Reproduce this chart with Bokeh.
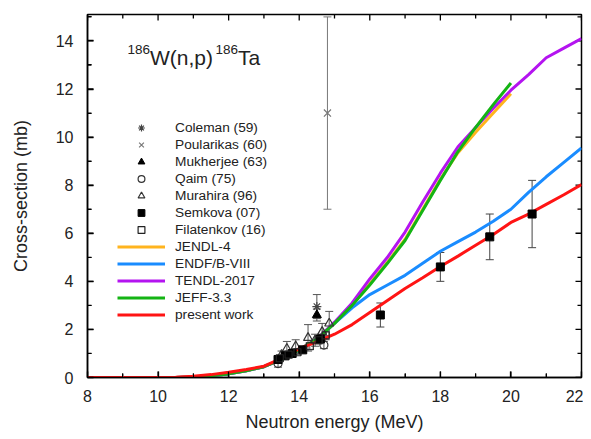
import numpy as np
from bokeh.plotting import figure
from bokeh.models import (Range1d, SingleIntervalTicker, Legend, LegendItem, LinearAxis,
                          ColumnDataSource, Whisker, TeeHead, Label, CustomJSTickFormatter)
from bokeh.embed import file_html
from bokeh.resources import INLINE

# ---------------- data ----------------
coleman_E = [14.5]; coleman_v = [2.95]; coleman_err = [0.5]
poularikas_E = [14.8]; poularikas_v = [11.0]; poularikas_err = [4.0]
mukherjee_E = [14.5]; mukherjee_v = [2.6]; mukherjee_err = [0.25]
qaim_E = [13.4, 14.7]; qaim_v = [0.58, 1.35]; qaim_err = [0.15, 0.15]
murahira_E = [13.5, 13.65, 13.9, 14.25, 14.45, 14.65, 14.85]
murahira_v = [0.95, 1.2, 1.3, 1.65, 1.55, 1.9, 2.25]
murahira_err = [0.15, 0.3, 0.27, 0.55, 0.25, 0.35, 0.5]
semkova_E = [13.4, 13.6, 13.8, 14.1, 14.6, 16.3, 18.0, 19.4, 20.6]
semkova_v = [0.75, 0.9, 1.0, 1.15, 1.6, 2.6, 4.6, 5.85, 6.8]
semkova_err = [0.08, 0.1, 0.1, 0.12, 0.15, 0.5, 0.6, 0.95, 1.4]
filatenkov_E = [13.45, 13.7, 13.95, 14.3, 14.55, 14.75]
filatenkov_v = [0.8, 0.95, 1.05, 1.3, 1.55, 1.75]
filatenkov_err = [0.08, 0.1, 0.1, 0.13, 0.15, 0.18]

eval_E_low = [10.0, 10.5, 11.0, 11.5, 12.0, 12.5, 13.0, 13.5, 14.0, 14.5]
eval_v_low = [0.0, 0.0, 0.02, 0.07, 0.15, 0.28, 0.45, 0.75, 1.15, 1.6]

jendl_E = [15.0, 15.5, 16.0, 16.5, 17.0, 17.5, 18.0, 18.5, 19.0, 19.5, 20.0]
jendl_v = [2.25, 3.0, 3.9, 4.8, 5.75, 7.0, 8.25, 9.35, 10.2, 11.0, 11.8]
endf_E = [15.0, 15.5, 16.0, 16.5, 17.0, 17.5, 18.0, 18.5, 19.0, 19.5, 20.0, 20.5, 21.0, 21.5, 22.0]
endf_v = [2.25, 2.9, 3.45, 3.85, 4.25, 4.75, 5.25, 5.65, 6.05, 6.5, 7.0, 7.7, 8.35, 8.95, 9.55]
tendl_E = [15.0, 15.5, 16.0, 16.5, 17.0, 17.5, 18.0, 18.5, 19.0, 19.5, 20.0, 20.5, 21.0, 21.5, 22.0]
tendl_v = [2.3, 3.1, 4.1, 5.0, 6.05, 7.3, 8.5, 9.6, 10.4, 11.2, 11.95, 12.6, 13.3, 13.7, 14.1]
jeff_E = [15.0, 15.5, 16.0, 16.5, 17.0, 17.5, 18.0, 18.5, 19.0, 19.5, 20.0]
jeff_v = [2.25, 3.0, 3.85, 4.75, 5.7, 6.95, 8.2, 9.4, 10.4, 11.35, 12.25]
present_E = [8.0, 9.0, 10.0, 10.5, 11.0, 11.5, 12.0, 12.5, 13.0, 13.5, 14.0, 14.5, 15.0, 15.5,
             16.0, 16.5, 17.0, 17.5, 18.0, 18.5, 19.0, 19.5, 20.0, 20.5, 21.0, 21.5, 22.0]
present_v = [0.0, 0.0, 0.0, 0.01, 0.05, 0.12, 0.22, 0.33, 0.47, 0.8, 1.2, 1.48, 1.8, 2.2,
             2.7, 3.2, 3.7, 4.15, 4.62, 5.05, 5.5, 5.95, 6.45, 6.8, 7.2, 7.6, 8.03]

x_major = [8, 10, 12, 14, 16, 18, 20, 22]
x_minor = [9, 11, 13, 15, 17, 19, 21]
y_major = [0, 2, 4, 6, 8, 10, 12, 14]
y_minor = [1, 3, 5, 7, 9, 11, 13, 15]

X0, X1, Y0, Y1 = 8, 22, 0, 15.1
FONT = "Liberation Sans"

W, H = 583, 439
BL, BR, BT, BB = 87, 2, 14, 62
FW, FH = W - BL - BR, H - BT - BB          # frame size in px
DX, DY = (X1 - X0) / FW, (Y1 - Y0) / FH    # data units per px

p = figure(width=W, height=H, output_backend="svg", toolbar_location=None,
           x_range=Range1d(X0, X1), y_range=Range1d(Y0, Y1),
           min_border_left=BL, min_border_right=BR, min_border_top=BT, min_border_bottom=BB,
           x_axis_label="Neutron energy (MeV)", y_axis_label="Cross-section (mb)")
p.xgrid.grid_line_color = None
p.ygrid.grid_line_color = None
p.outline_line_color = "black"
p.outline_line_width = 1.5

bottom_ax = p.below[0]
left_ax = p.left[0]

for ax in (bottom_ax, left_ax):
    ax.ticker = SingleIntervalTicker(interval=2, num_minor_ticks=2)
    ax.major_tick_in = 6
    ax.major_tick_out = 0
    ax.minor_tick_in = 4
    ax.minor_tick_out = 0
    ax.major_tick_line_color = "black"
    ax.minor_tick_line_color = "black"
    ax.major_tick_line_width = 1.3
    ax.axis_line_width = 1.5
    ax.axis_line_color = "black"
    ax.major_label_text_font = FONT
    ax.major_label_text_font_size = "16px"
    ax.major_label_text_color = "#222222"
    ax.axis_label_text_font = FONT
    ax.axis_label_text_font_size = "18px"
    ax.axis_label_text_font_style = "normal"
    ax.axis_label_text_color = "#222222"
bottom_ax.major_label_standoff = 12
bottom_ax.axis_label_standoff = 7
left_ax.major_label_standoff = 14
left_ax.axis_label_standoff = 22

# inward ticks on all four sides, drawn as headless whiskers from the tick lists
def tick_whiskers(vals, edge, length, dim):
    n = len(vals)
    lo = [edge] * n
    hi = [edge + length] * n
    src = ColumnDataSource(dict(b=vals, lo=[min(a, c) for a, c in zip(lo, hi)],
                                hi=[max(a, c) for a, c in zip(lo, hi)]))
    p.add_layout(Whisker(source=src, base="b", lower="lo", upper="hi", dimension=dim,
                         line_color="black", line_width=1.3,
                         upper_head=None, lower_head=None))

tick_whiskers(x_major, Y0, 6 * DY, "height")
tick_whiskers(x_major, Y1, -6 * DY, "height")
tick_whiskers(x_minor, Y0, 4 * DY, "height")
tick_whiskers(x_minor, Y1, -4 * DY, "height")
tick_whiskers(y_major, X0, 6 * DX, "width")
tick_whiskers(y_major, X1, -6 * DX, "width")
tick_whiskers(y_minor, X0, 4 * DX, "width")
tick_whiskers(y_minor, X1, -4 * DX, "width")

# ---------------- evaluations ----------------
def full(E, v):
    return list(eval_E_low) + list(E), list(eval_v_low) + list(v)

lw = 3
xe, ye = full(jendl_E, jendl_v)
r_jendl = p.line(xe, ye, line_color="#ffb41e", line_width=lw)
xe, ye = full(endf_E, endf_v)
r_endf = p.line(xe, ye, line_color="#1a8cff", line_width=lw)
xe, ye = full(tendl_E, tendl_v)
r_tendl = p.line(xe, ye, line_color="#b414f0", line_width=lw)
xe, ye = full(jeff_E, jeff_v)
r_jeff = p.line(xe, ye, line_color="#14b414", line_width=lw)
r_present = p.line(present_E, present_v, line_color="#ff1414", line_width=lw)

# ---------------- experimental data ----------------
def errbars(E, v, err, color="#555555"):
    src = ColumnDataSource(dict(x=E, lo=[a - b for a, b in zip(v, err)],
                                hi=[a + b for a, b in zip(v, err)]))
    w = Whisker(source=src, base="x", lower="lo", upper="hi", dimension="height",
                line_color=color, line_width=1,
                upper_head=TeeHead(size=8, line_color=color, line_width=1),
                lower_head=TeeHead(size=8, line_color=color, line_width=1))
    p.add_layout(w)

errbars(poularikas_E, poularikas_v, poularikas_err, "#777777")
errbars(coleman_E, coleman_v, coleman_err)
errbars(mukherjee_E, mukherjee_v, mukherjee_err)
errbars(qaim_E, qaim_v, qaim_err)
errbars(murahira_E, murahira_v, murahira_err)
errbars(semkova_E, semkova_v, semkova_err, "#444444")
errbars(filatenkov_E, filatenkov_v, filatenkov_err)

r_col = p.scatter(coleman_E, coleman_v, marker="asterisk", size=9, line_color="#444444", line_width=1.2)
r_pou = p.scatter(poularikas_E, poularikas_v, marker="x", size=10, line_color="#777777", line_width=1.2)
r_muk = p.scatter(mukherjee_E, mukherjee_v, marker="triangle", size=9, fill_color="black", line_color="black")
r_qai = p.scatter(qaim_E, qaim_v, marker="circle", size=8, fill_color=None, line_color="#333333", line_width=1.2)
r_mur = p.scatter(murahira_E, murahira_v, marker="triangle", size=9, fill_color=None, line_color="#333333", line_width=1.2)
r_sem = p.scatter(semkova_E, semkova_v, marker="square", size=8, fill_color="black", line_color="black")
r_fil = p.scatter(filatenkov_E, filatenkov_v, marker="square", size=7, fill_color=None, line_color="#222222", line_width=1.2)

legend = Legend(items=[
    LegendItem(label="Coleman (59)", renderers=[r_col]),
    LegendItem(label="Poularikas (60)", renderers=[r_pou]),
    LegendItem(label="Mukherjee (63)", renderers=[r_muk]),
    LegendItem(label="Qaim (75)", renderers=[r_qai]),
    LegendItem(label="Murahira (96)", renderers=[r_mur]),
    LegendItem(label="Semkova (07)", renderers=[r_sem]),
    LegendItem(label="Filatenkov (16)", renderers=[r_fil]),
    LegendItem(label="JENDL-4", renderers=[r_jendl]),
    LegendItem(label="ENDF/B-VIII", renderers=[r_endf]),
    LegendItem(label="TENDL-2017", renderers=[r_tendl]),
    LegendItem(label="JEFF-3.3", renderers=[r_jeff]),
    LegendItem(label="present work", renderers=[r_present]),
], location=(30, 54), glyph_width=48, glyph_height=17, label_height=17, spacing=0,
    label_standoff=10, padding=0, margin=0, border_line_color=None,
    background_fill_alpha=0, label_text_font=FONT, label_text_font_size="13.7px",
    label_text_color="#222222")
p.add_layout(legend)

# ---------------- reaction title ----------------
def lab(x, y, t, size):
    p.add_layout(Label(x=x, y=y, text=t, text_font=FONT, text_font_size=size,
                       text_color="#222222", text_baseline="alphabetic"))

lab(9.134, 13.64, "186", "13.5px")
lab(9.771, 13.31, "W(n,p)", "21px")
lab(11.628, 13.64, "186", "13.5px")
lab(12.265, 13.31, "Ta", "21px")

open("out.html", "w").write(file_html(p, INLINE))
